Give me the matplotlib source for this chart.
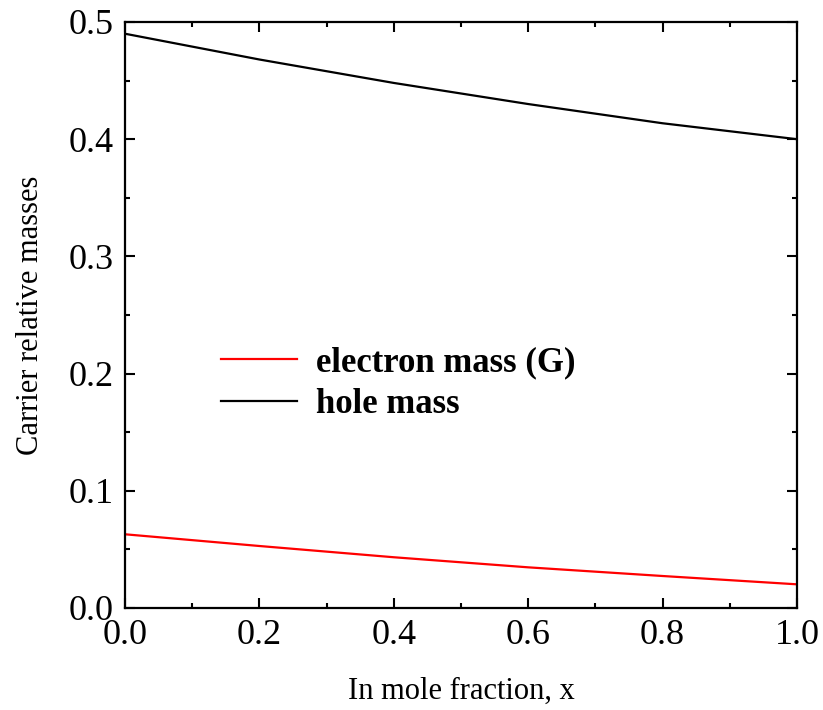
import numpy as np
import matplotlib.pyplot as plt
from matplotlib.ticker import MultipleLocator

# values
x = [0.0, 0.2, 0.4, 0.6, 0.8, 1.0]
electron_mass = [0.0629, 0.0529, 0.0433, 0.0347, 0.0273, 0.0202]
hole_mass = [0.490, 0.468, 0.448, 0.430, 0.4136, 0.400]

plt.rcParams['font.family'] = ['Liberation Serif', 'DejaVu Serif']

fig = plt.figure(figsize=(8.23, 7.10), dpi=100)
ax = fig.add_axes([125/823, 1 - 608/710, 672/823, 586/710])

ax.plot(x, electron_mass, color='#ff0000', lw=1.6, label='electron mass (G)')
ax.plot(x, hole_mass, color='black', lw=1.6, label='hole mass')

ax.set_xlim(0, 1)
ax.set_ylim(0, 0.5)
ax.xaxis.set_major_locator(MultipleLocator(0.2))
ax.xaxis.set_minor_locator(MultipleLocator(0.1))
ax.yaxis.set_major_locator(MultipleLocator(0.1))
ax.yaxis.set_minor_locator(MultipleLocator(0.05))
ax.xaxis.set_major_formatter(lambda v, p: f"{v:.1f}")
ax.yaxis.set_major_formatter(lambda v, p: f"{v:.1f}")
ax.tick_params(which='both', direction='in', top=True, right=True, width=1.5)
ax.tick_params(which='major', length=7, labelsize=26, pad=8)
ax.tick_params(which='minor', length=3.5)
for s in ax.spines.values():
    s.set_linewidth(1.6)

ax.set_xlabel('In mole fraction, x', fontsize=22, labelpad=18)
ax.set_ylabel('Carrier relative masses', fontsize=22, labelpad=17)

ax.legend(loc='upper left', bbox_to_anchor=(0.096, 0.50), frameon=False,
          prop={'weight': 'bold', 'size': 25}, handlelength=2.2,
          handletextpad=0.55, labelspacing=0.25)

fig.savefig('out.png', dpi=100)
